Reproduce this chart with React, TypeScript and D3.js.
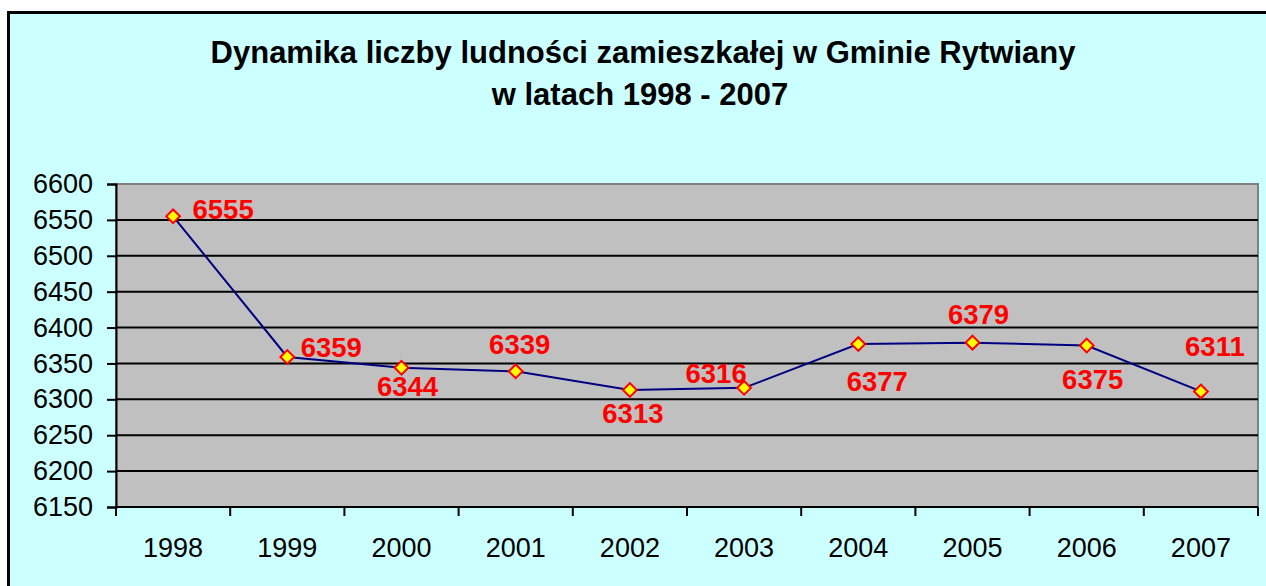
import React, { useEffect, useRef } from 'react';
import * as d3 from 'd3';

const years = ['1998', '1999', '2000', '2001', '2002', '2003', '2004', '2005', '2006', '2007'];
const population = [6555, 6359, 6344, 6339, 6313, 6316, 6377, 6379, 6375, 6311];
const yTicks = [6150, 6200, 6250, 6300, 6350, 6400, 6450, 6500, 6550, 6600];
// where each data label sits relative to its marker (dx to text centre, dy to baseline)
const labelOffsets: [number, number][] = [
  [50, 3], [44, 0], [6, 28], [4, -17], [3, 33],
  [-28, -5], [19, 47], [6, -19], [6, 43], [14, -35],
];

const width = 1266;
const height = 586;
const plot = { left: 116, right: 1258, top: 184, bottom: 507 };
const font = '"Liberation Sans", Arial, sans-serif';

function App() {
  const ref = useRef<SVGSVGElement>(null);

  useEffect(() => {
    if (!ref.current) return;
    const svg = d3.select(ref.current);
    svg.selectAll('*').remove();

    // chart area with heavy frame (runs off the right / bottom edge)
    svg.append('rect')
      .attr('x', 0).attr('y', 0).attr('width', width).attr('height', height)
      .attr('fill', '#ffffff');
    svg.append('rect')
      .attr('x', 8.5).attr('y', 12.5).attr('width', width + 10).attr('height', height + 10)
      .attr('fill', '#ccffff')
      .attr('stroke', '#000').attr('stroke-width', 3);

    const x = d3.scaleBand<string>().domain(years).range([plot.left, plot.right]);
    const y = d3.scaleLinear().domain([6150, 6600]).range([plot.bottom, plot.top]);
    const cx = (d: string) => (x(d) ?? 0) + x.bandwidth() / 2;

    // title
    const title = svg.append('text')
      .attr('text-anchor', 'middle')
      .attr('font-family', font)
      .attr('font-weight', 'bold')
      .attr('font-size', 31)
      .attr('fill', '#000');
    title.append('tspan').attr('x', 643).attr('y', 63).text('Dynamika liczby ludności zamieszkałej w Gminie Rytwiany');
    title.append('tspan').attr('x', 640).attr('y', 105).text('w latach 1998 - 2007');

    // plot area
    svg.append('rect')
      .attr('x', plot.left).attr('y', plot.top)
      .attr('width', plot.right - plot.left).attr('height', plot.bottom - plot.top)
      .attr('fill', '#c0c0c0')
      .attr('stroke', '#808080').attr('stroke-width', 2);

    // gridlines
    svg.append('g')
      .selectAll('line')
      .data(yTicks.filter(t => t !== 6150 && t !== 6600))
      .enter()
      .append('line')
      .attr('x1', plot.left).attr('x2', plot.right)
      .attr('y1', d => y(d)).attr('y2', d => y(d))
      .attr('stroke', '#000').attr('stroke-width', 2);

    // y axis
    const yAxis = svg.append('g')
      .attr('transform', `translate(${plot.left},0)`)
      .call(d3.axisLeft(y).tickValues(yTicks).tickSize(9).tickPadding(14).tickFormat(d3.format('d')));
    yAxis.select('.domain').attr('stroke', '#000').attr('stroke-width', 2);
    yAxis.selectAll('.tick line').attr('stroke', '#000').attr('stroke-width', 2);
    yAxis.selectAll('.tick text')
      .attr('font-family', font).attr('font-size', 27).attr('fill', '#000');

    // x axis: ticks between categories, labels centred
    const xg = svg.append('g');
    xg.append('line')
      .attr('x1', plot.left).attr('x2', plot.right)
      .attr('y1', plot.bottom).attr('y2', plot.bottom)
      .attr('stroke', '#000').attr('stroke-width', 2);
    xg.selectAll('line.tick')
      .data(d3.range(years.length + 1))
      .enter()
      .append('line')
      .attr('class', 'tick')
      .attr('x1', i => plot.left + i * x.step()).attr('x2', i => plot.left + i * x.step())
      .attr('y1', plot.bottom).attr('y2', plot.bottom + 9)
      .attr('stroke', '#000').attr('stroke-width', 2);
    xg.selectAll('text')
      .data(years)
      .enter()
      .append('text')
      .attr('x', d => cx(d))
      .attr('y', 557)
      .attr('text-anchor', 'middle')
      .attr('font-family', font).attr('font-size', 27).attr('fill', '#000')
      .text(d => d);

    // line
    const line = d3.line<number>()
      .x((_, i) => cx(years[i]))
      .y(d => y(d));
    svg.append('path')
      .datum(population)
      .attr('d', line)
      .attr('fill', 'none')
      .attr('stroke', '#000080')
      .attr('stroke-width', 2);

    // diamond markers
    const diamond = d3.symbol().type(d3.symbolDiamond2).size(120);
    svg.append('g')
      .selectAll('path')
      .data(population)
      .enter()
      .append('path')
      .attr('d', diamond)
      .attr('transform', (d, i) => `translate(${cx(years[i])},${y(d)})`)
      .attr('fill', '#ffff00')
      .attr('stroke', '#ff0000')
      .attr('stroke-width', 2);

    // data labels
    svg.append('g')
      .selectAll('text')
      .data(population)
      .enter()
      .append('text')
      .attr('x', (d, i) => cx(years[i]) + labelOffsets[i][0])
      .attr('y', (d, i) => y(d) + labelOffsets[i][1])
      .attr('text-anchor', 'middle')
      .attr('font-family', font)
      .attr('font-weight', 'bold')
      .attr('font-size', 27.5)
      .attr('fill', '#ff0000')
      .text(d => d);
  }, []);

  return (
    <svg ref={ref} width={width} height={height}
      style={{ position: 'absolute', left: 0, top: 0, display: 'block' }} />
  );
}

export default App;
